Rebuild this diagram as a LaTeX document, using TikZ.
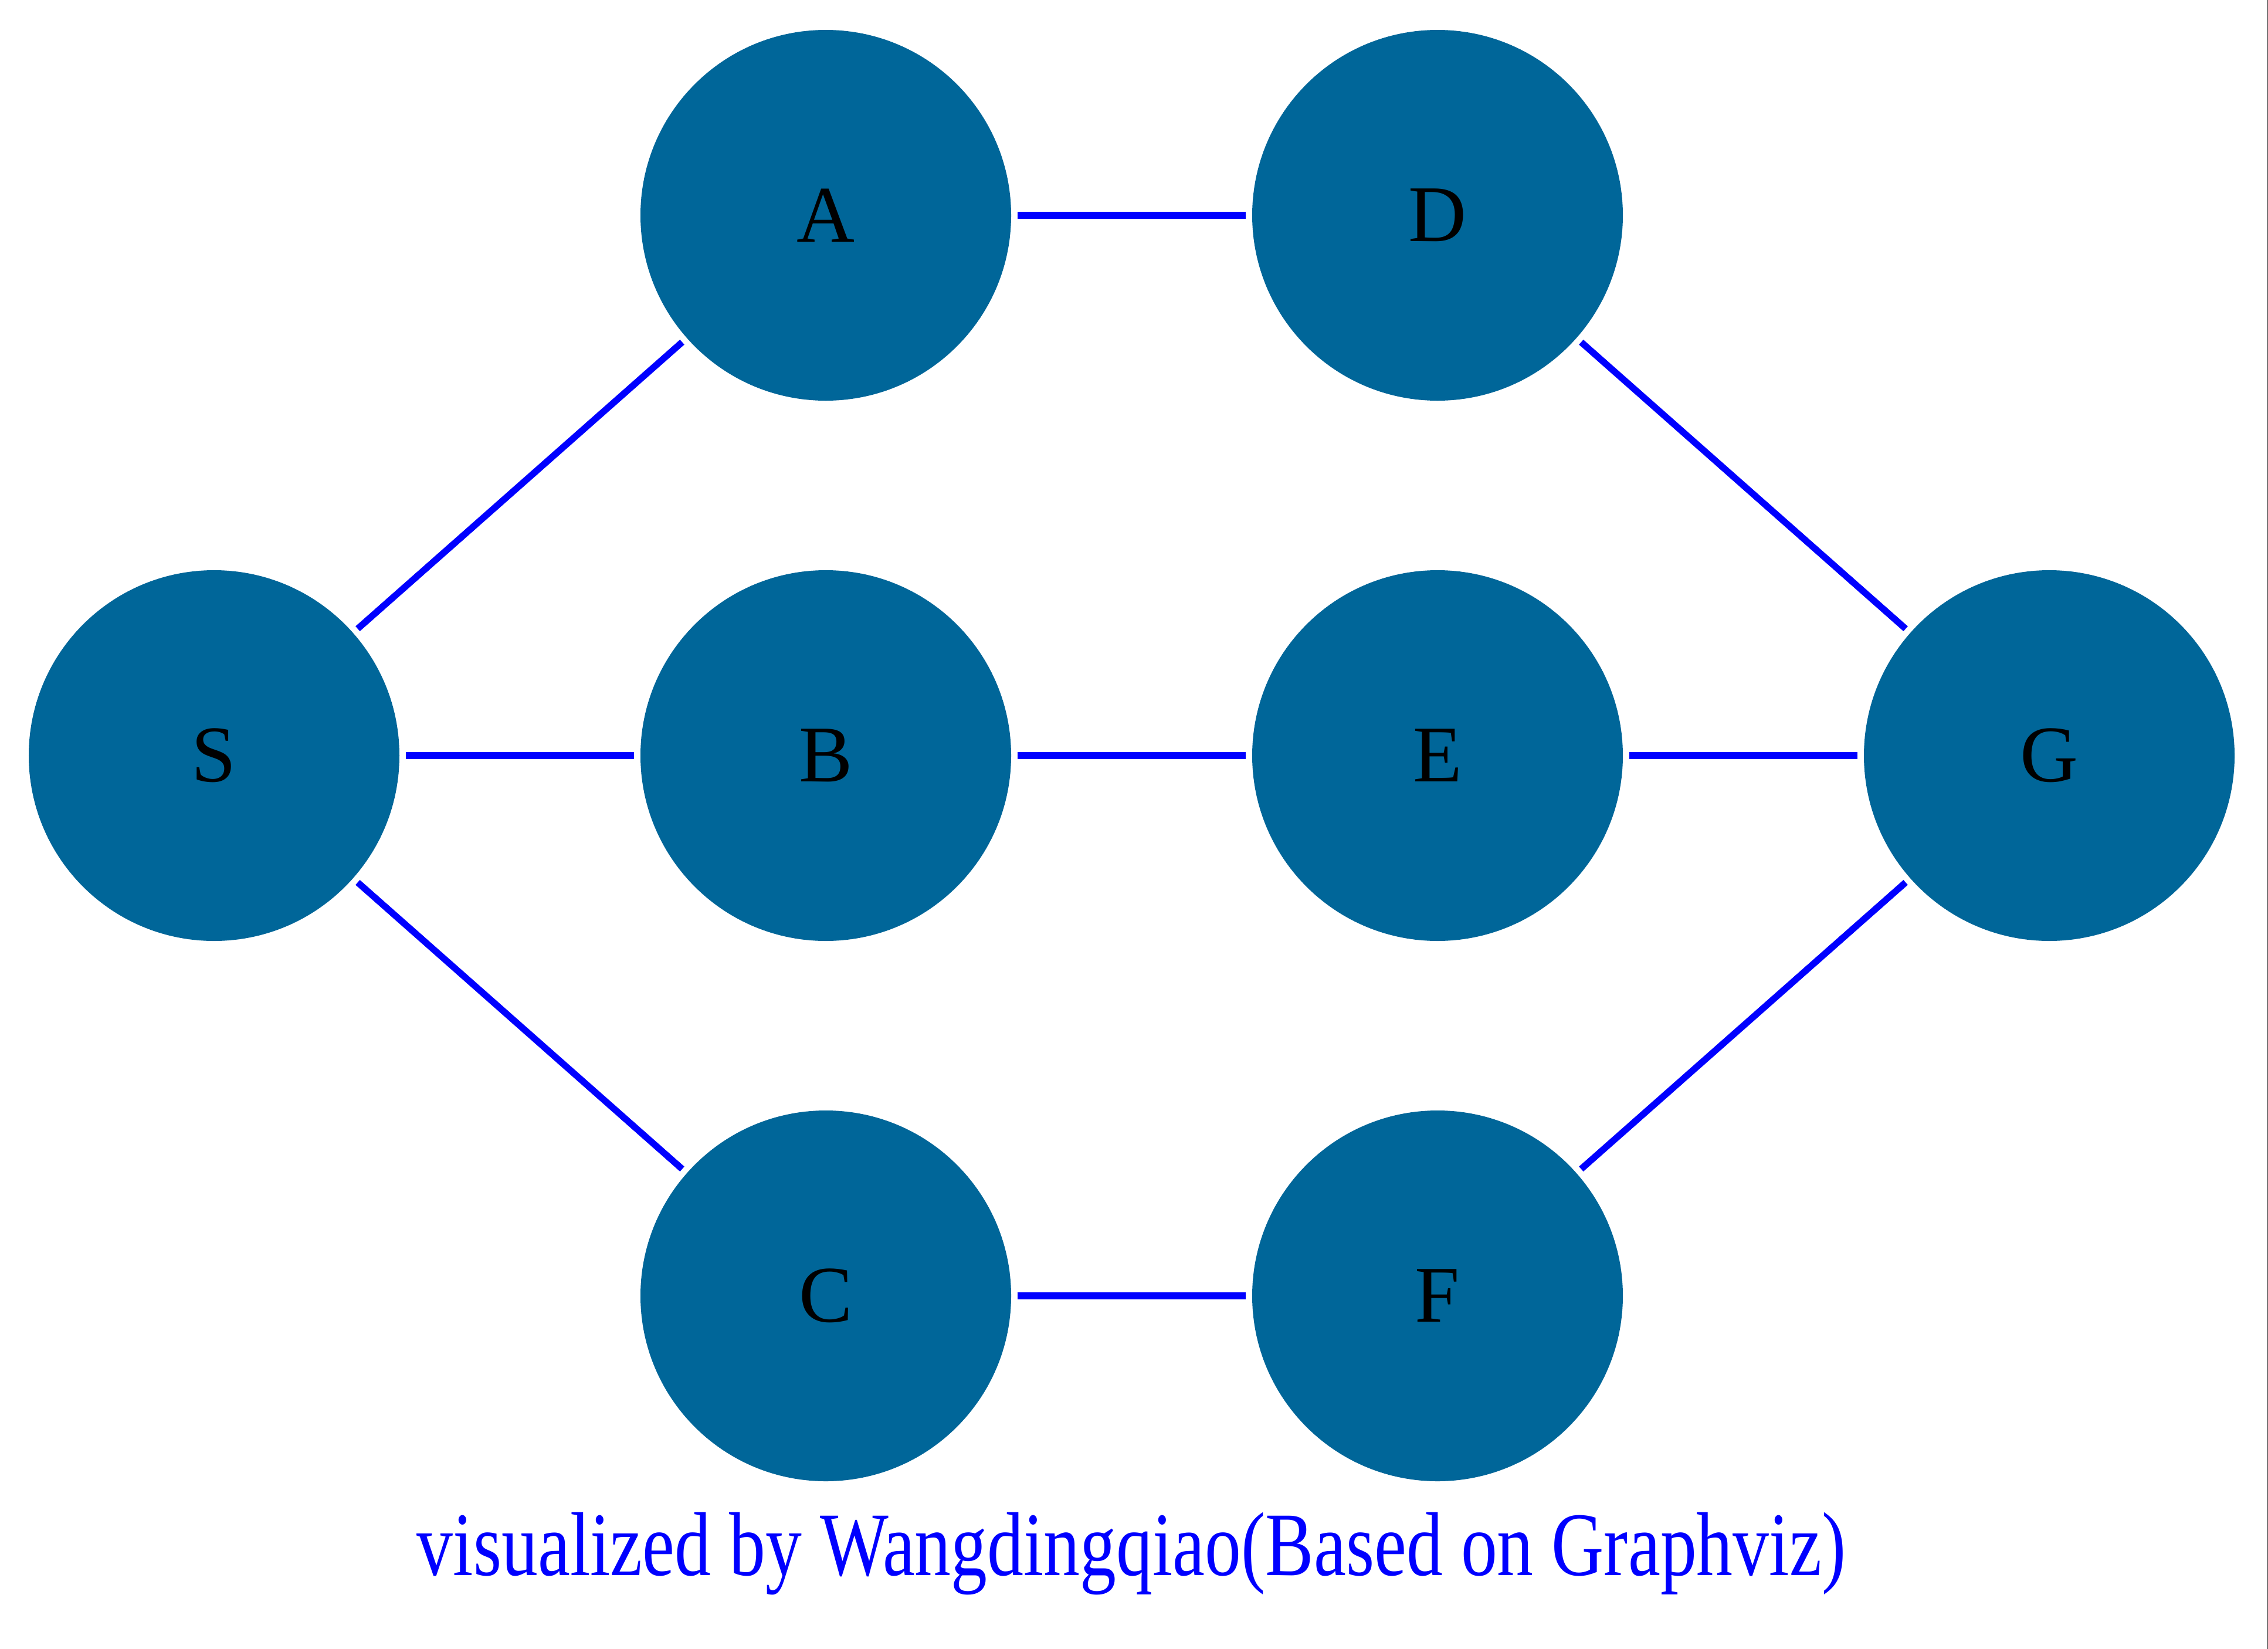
\documentclass[tikz,border=0pt]{standalone}
\usepackage{fontspec}
\setmainfont{Liberation Serif}
\definecolor{nodeblue}{RGB}{0,102,153}
\definecolor{edgeblue}{RGB}{0,0,255}
\begin{document}
\begin{tikzpicture}[
    vertex/.style={circle, fill=nodeblue, minimum size=6.32cm, inner sep=0pt,
                   font=\fontsize{39}{39}\selectfont, text=black},
    link/.style={draw=edgeblue, line width=3.2pt, shorten <=0.1cm, shorten >=0.1cm}
]
    % Page size
    \useasboundingbox (0,0) rectangle (38.67,-28.11);
    \fill[black!55] (38.645,0) rectangle (38.67,-28.11);

    % Vertices
    \node[vertex] (S) at (3.65,-12.88) {S};
    \node[vertex] (A) at (14.08,-3.67) {A};
    \node[vertex] (B) at (14.08,-12.88) {B};
    \node[vertex] (C) at (14.08,-22.09) {C};
    \node[vertex] (D) at (24.51,-3.67) {D};
    \node[vertex] (E) at (24.51,-12.88) {E};
    \node[vertex] (F) at (24.51,-22.09) {F};
    \node[vertex] (G) at (34.94,-12.88) {G};

    % Edges
    \draw[link] (S) -- (A);
    \draw[link] (S) -- (B);
    \draw[link] (S) -- (C);
    \draw[link] (A) -- (D);
    \draw[link] (B) -- (E);
    \draw[link] (C) -- (F);
    \draw[link] (D) -- (G);
    \draw[link] (E) -- (G);
    \draw[link] (F) -- (G);

    % Footer
    \node[anchor=base, text=edgeblue, font=\fontsize{44}{44}\selectfont, xscale=0.8]
        (credit) at (19.29,-26.85) {visualized by Wangdingqiao(Based on Graphviz)};
\end{tikzpicture}
\end{document}
